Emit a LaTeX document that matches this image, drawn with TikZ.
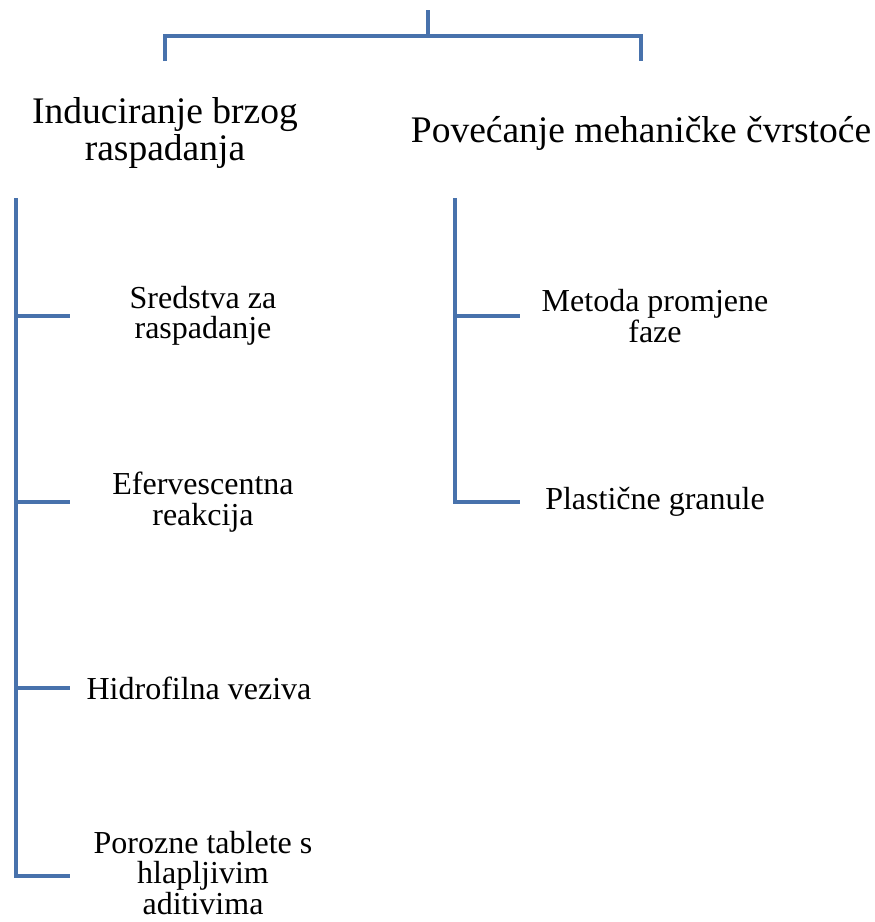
\documentclass[tikz,border=0pt]{standalone}
\usepackage{fontspec}
\setmainfont{Liberation Serif}
\usepackage{tikz}
\usetikzlibrary{positioning}
\usepackage{xcolor}
\definecolor{treeblue}{RGB}{72,114,172}
\begin{document}
\begin{tikzpicture}[x=1pt,y=-1pt, every node/.style={inner sep=0pt, align=center}]
\tikzstyle{link}=[draw=treeblue, line width=4pt]
\tikzstyle{head}=[font=\fontsize{37.5}{37}\selectfont]
\tikzstyle{leaf}=[font=\fontsize{32}{30.5}\selectfont]
\useasboundingbox (0,0) rectangle (875,922);
% top bracket
\coordinate (root) at (428,10);
\coordinate (rootj) at (428,36);
\coordinate (lj) at (165,36);
\coordinate (rj) at (641,36);
\coordinate (ld) at (165,61);
\coordinate (rd) at (641,61);
\draw[link] (root) -- (rootj);
\draw[link] (ld) -- (lj) -- (rj) -- (rd);
\node[head] (ind) at (165,133) {Induciranje brzog\\raspadanja};
\node[head] (pov) at (641,133) {Povećanje mehaničke čvrstoće};
% left branch
\coordinate (ls) at (16,198);
\node[leaf] (sre) at (203,316) {Sredstva za\\raspadanje};
\node[leaf] (efe) at (203,502) {Efervescentna\\reakcija};
\node[leaf] (hid) at (199,688) {Hidrofilna veziva};
\node[leaf] (por) at (203,873) {Porozne tablete s\\hlapljivim\\aditivima};
\coordinate (b1) at (70,316);
\coordinate (b2) at (70,502);
\coordinate (b3) at (70,688);
\coordinate (b4) at (70,876);
\draw[link] (ls) |- (b4);
\draw[link] (b1 -| ls) -- (b1); \draw[link] (b2 -| ls) -- (b2); \draw[link] (b3 -| ls) -- (b3);
% right branch
\coordinate (rs) at (455,198);
\node[leaf] (met) at (655,316) {Metoda promjene\\faze};
\node[leaf] (pla) at (655,502) {Plastične granule};
\coordinate (c1) at (520,316);
\coordinate (c2) at (520,502);
\draw[link] (rs) |- (c2);
\draw[link] (c1 -| rs) -- (c1);
\end{tikzpicture}
\end{document}
